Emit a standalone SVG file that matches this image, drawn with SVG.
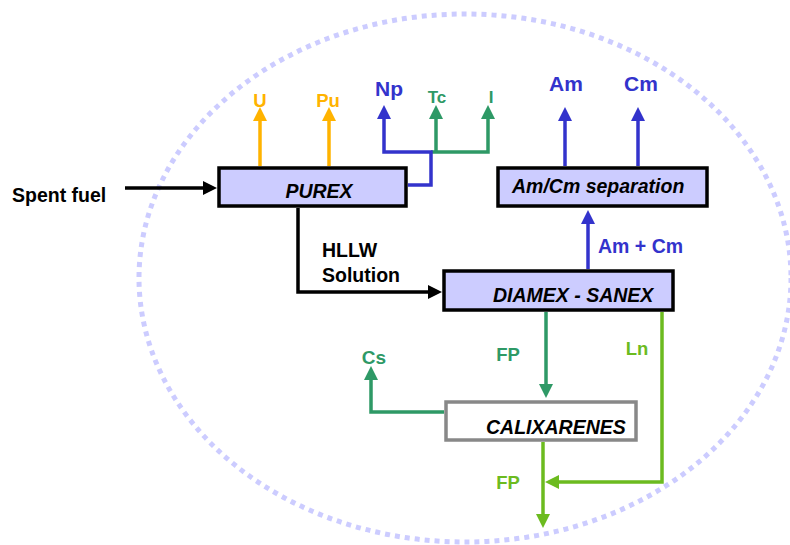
<svg xmlns="http://www.w3.org/2000/svg" width="790" height="545" viewBox="0 0 790 545">
<style>
text{font-family:"Liberation Sans",Arial,sans-serif;font-weight:bold}
.box{fill:#ccccff;stroke:#000;stroke-width:3.5}
.gbox{fill:#fff;stroke:#888;stroke-width:3.5}
.nl{font-style:italic;font-size:19.5px;fill:#000}
.c{fill:none;stroke-width:3.5;stroke-linejoin:miter}
.k{stroke:#000}.o{stroke:#ffb300}.b{stroke:#3333cc}.g{stroke:#2e9966}.l{stroke:#6cbb1f}
.mid{text-anchor:middle}
</style>
<defs>
<marker id="ak" viewBox="0 0 14 14" refX="6" refY="7" markerWidth="14" markerHeight="14" markerUnits="userSpaceOnUse" orient="auto"><path d="M0,0L14,7L0,14z" fill="#000"/></marker>
<marker id="ao" viewBox="0 0 14 14" refX="6" refY="7" markerWidth="14" markerHeight="14" markerUnits="userSpaceOnUse" orient="auto"><path d="M0,0L14,7L0,14z" fill="#ffb300"/></marker>
<marker id="ab" viewBox="0 0 14 14" refX="6" refY="7" markerWidth="14" markerHeight="14" markerUnits="userSpaceOnUse" orient="auto"><path d="M0,0L14,7L0,14z" fill="#3333cc"/></marker>
<marker id="ag" viewBox="0 0 14 14" refX="6" refY="7" markerWidth="14" markerHeight="14" markerUnits="userSpaceOnUse" orient="auto"><path d="M0,0L14,7L0,14z" fill="#2e9966"/></marker>
<marker id="al" viewBox="0 0 14 14" refX="6" refY="7" markerWidth="14" markerHeight="14" markerUnits="userSpaceOnUse" orient="auto"><path d="M0,0L14,7L0,14z" fill="#6cbb1f"/></marker>
</defs>
<rect width="790" height="545" fill="#fff"/>
<ellipse id="boundary" cx="465" cy="278" rx="326" ry="264" fill="none" stroke="#ccccff" stroke-width="5" stroke-dasharray="5 5"/>
<g id="connectors">
<path class="c k" d="M125,188H209" marker-end="url(#ak)"/>
<path class="c o" d="M260,166V115" marker-end="url(#ao)"/>
<path class="c o" d="M329,166V115" marker-end="url(#ao)"/>
<path class="c g" d="M431,152H488V113" marker-end="url(#ag)"/>
<path class="c g" d="M436,152V113" marker-end="url(#ag)"/>
<path class="c b" d="M408,185H431V152H384V113" marker-end="url(#ab)"/>
<path class="c b" d="M565,166V115" marker-end="url(#ab)"/>
<path class="c b" d="M638,166V115" marker-end="url(#ab)"/>
<path class="c b" d="M588,269V218" marker-end="url(#ab)"/>
<path class="c k" d="M298,208V292H434" marker-end="url(#ak)"/>
<path class="c g" d="M546,312V390" marker-end="url(#ag)"/>
<path class="c l" d="M662,312V482H553" marker-end="url(#al)"/>
<path class="c g" d="M444,412H371V374" marker-end="url(#ag)"/>
<path class="c l" d="M543,442V520" marker-end="url(#al)"/>
</g>
<g id="spent-fuel"><text x="12" y="202" font-size="19.5">Spent fuel</text></g>
<g id="purex"><rect class="box" x="219" y="168" width="187" height="38"/><text class="nl mid" x="319" y="198">PUREX</text></g>
<g id="amcm-sep"><rect class="box" x="498" y="168" width="209" height="38"/><text class="nl" x="512" y="193">Am/Cm separation</text></g>
<g id="diamex"><rect class="box" x="444" y="271" width="229" height="39"/><text class="nl" x="493" y="302">DIAMEX - SANEX</text></g>
<g id="calixarenes"><rect class="gbox" x="446" y="402" width="190" height="38"/><text class="nl" x="486" y="434">CALIXARENES</text></g>
<g id="labels">
<text x="260" y="107" font-size="18.5" fill="#ffb300" class="mid">U</text>
<text x="328" y="107" font-size="18.5" fill="#ffb300" class="mid">Pu</text>
<text x="389" y="96" font-size="21" fill="#3333cc" class="mid">Np</text>
<text x="437" y="103" font-size="17" fill="#2e9966" class="mid">Tc</text>
<text x="491" y="103" font-size="17" fill="#2e9966" class="mid">I</text>
<text x="566" y="91" font-size="21" fill="#3333cc" class="mid">Am</text>
<text x="641" y="91" font-size="21" fill="#3333cc" class="mid">Cm</text>
<text x="598" y="253" font-size="19.5" fill="#3333cc">Am + Cm</text>
<text x="322" y="257" font-size="19.5" fill="#000">HLLW</text>
<text x="322" y="282" font-size="19.5" fill="#000">Solution</text>
<text x="508" y="361" font-size="18.5" fill="#2e9966" class="mid">FP</text>
<text x="637" y="355" font-size="18.5" fill="#6cbb1f" class="mid">Ln</text>
<text x="374" y="364" font-size="19" fill="#2e9966" class="mid">Cs</text>
<text x="508" y="489" font-size="18.5" fill="#6cbb1f" class="mid">FP</text>
</g>
</svg>
